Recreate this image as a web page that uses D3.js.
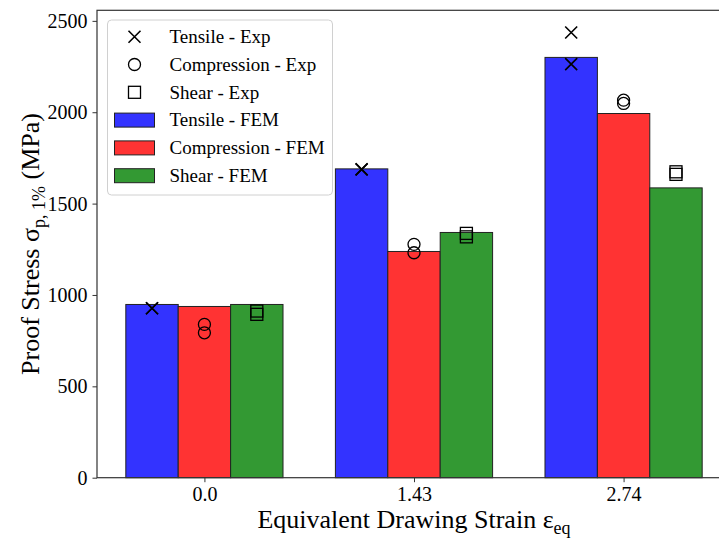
<!DOCTYPE html>
<html>
<head>
<meta charset="utf-8">
<script src="https://cdn.jsdelivr.net/npm/d3@7"></script>
<style>
  body { margin: 0; background: #fff; }
  svg { display: block; font-family: "Liberation Serif", "DejaVu Serif", serif; }
  .axis text { font-family: "Liberation Serif", "DejaVu Serif", serif; font-size: 20px; fill: #000; }
</style>
</head>
<body>
<div id="chart"></div>
<script>
// categories (equivalent drawing strain)
const strains = ['0.0', '1.43', '2.74'];

// FEM bar values (MPa)
const tensileFem = [948, 1690, 2300];
const compressionFem = [937, 1238, 1993];
const shearFem = [948, 1342, 1586];

// experimental points (two specimens per strain)
const tensileExp = [[927, 927], [1687, 1687], [2436, 2263]];
const compressionExp = [[839, 793], [1277, 1231], [2066, 2048]];
const shearExp = [[912, 894], [1337, 1318], [1674, 1660]];

const yTicks = [0, 500, 1000, 1500, 2000, 2500];

const width = 719, height = 538;
const margin = {top: 10.3, left: 97, right: -12, bottom: 60.3};
const plotW = width - margin.left - margin.right,
      plotH = height - margin.top - margin.bottom;

const svg = d3.select('#chart').append('svg')
  .attr('width', width)
  .attr('height', height);

const barW = 0.25;

const x = d3.scaleLinear()
  .domain([-0.5125, 2.5125])
  .range([0, plotW]);

const allVals = [].concat(tensileFem, compressionFem, shearFem,
  tensileExp.flat(), compressionExp.flat(), shearExp.flat());
const y = d3.scaleLinear()
  .domain([0, d3.max(allVals) * 1.05])
  .range([plotH, 0]);

const chart = svg.append('g')
  .attr('transform', `translate(${margin.left}, ${margin.top})`);

const series = [
  {name: 'Tensile - FEM', values: tensileFem, fill: '#3333ff', off: -barW},
  {name: 'Compression - FEM', values: compressionFem, fill: '#ff3333', off: 0},
  {name: 'Shear - FEM', values: shearFem, fill: '#339933', off: barW}
];

series.forEach(s => {
  chart.append('g')
    .selectAll('rect')
    .data(s.values)
    .enter().append('rect')
      .attr('x', (d, i) => x(i + s.off - barW / 2))
      .attr('width', x(barW) - x(0))
      .attr('y', d => y(d))
      .attr('height', d => y(0) - y(d))
      .attr('fill', s.fill)
      .attr('stroke', '#222')
      .attr('stroke-width', 1);
});

// experimental markers
const ms = 6;
const crossPath = `M${-ms},${-ms}L${ms},${ms}M${-ms},${ms}L${ms},${-ms}`;

tensileExp.forEach((pts, i) => {
  chart.append('g').selectAll('path')
    .data(pts)
    .enter().append('path')
      .attr('d', crossPath)
      .attr('transform', d => `translate(${x(i - barW)}, ${y(d)})`)
      .attr('fill', 'none')
      .attr('stroke', '#000')
      .attr('stroke-width', 1.6);
});

compressionExp.forEach((pts, i) => {
  chart.append('g').selectAll('circle')
    .data(pts)
    .enter().append('circle')
      .attr('cx', x(i))
      .attr('cy', d => y(d))
      .attr('r', 6)
      .attr('fill', 'none')
      .attr('stroke', '#000')
      .attr('stroke-width', 1.3);
});

shearExp.forEach((pts, i) => {
  chart.append('g').selectAll('rect')
    .data(pts)
    .enter().append('rect')
      .attr('x', x(i + barW) - 6)
      .attr('y', d => y(d) - 6)
      .attr('width', 12)
      .attr('height', 12)
      .attr('fill', 'none')
      .attr('stroke', '#000')
      .attr('stroke-width', 1.3);
});

// axes
const xAxis = d3.axisBottom(x)
  .tickValues([0, 1, 2])
  .tickFormat(i => strains[i])
  .tickSize(4.5)
  .tickPadding(5);

chart.append('g')
  .attr('class', 'axis axis--x')
  .attr('transform', `translate(0, ${plotH})`)
  .call(xAxis)
  .attr('font-family', null)
  .attr('font-size', null);

const yAxis = d3.axisLeft(y)
  .tickValues(yTicks)
  .tickFormat(d3.format('d'))
  .tickSize(4.5)
  .tickPadding(5);

chart.append('g')
  .attr('class', 'axis axis--y')
  .call(yAxis)
  .attr('font-family', null)
  .attr('font-size', null);

chart.selectAll('.axis .domain').remove();
chart.selectAll('.axis line').attr('stroke', '#333').attr('stroke-width', 1);

// frame
chart.append('rect')
  .attr('x', 0).attr('y', 0)
  .attr('width', plotW).attr('height', plotH)
  .attr('fill', 'none')
  .attr('stroke', '#333')
  .attr('stroke-width', 1.2);

// axis labels
const xLabel = svg.append('text')
  .attr('x', margin.left + plotW / 2)
  .attr('y', 528)
  .attr('text-anchor', 'middle')
  .style('font-size', '26px');
xLabel.append('tspan').text('Equivalent Drawing Strain ε');
xLabel.append('tspan').attr('dy', 6).style('font-size', '18px').text('eq');

const yLabel = svg.append('text')
  .attr('transform', `translate(39, ${margin.top + plotH / 2}) rotate(-90)`)
  .attr('text-anchor', 'middle')
  .style('font-size', '26px');
yLabel.append('tspan').text('Proof Stress σ');
yLabel.append('tspan').attr('dy', 6).style('font-size', '18px').text('p, 1%');
yLabel.append('tspan').attr('dy', -6).text(' (MPa)');

// legend
const legendItems = [
  {name: 'Tensile - Exp', type: 'cross'},
  {name: 'Compression - Exp', type: 'circle'},
  {name: 'Shear - Exp', type: 'square'}
].concat(series.map(s => ({name: s.name, type: 'patch', fill: s.fill})));

const legend = svg.append('g')
  .attr('transform', 'translate(107.5, 20)');

legend.append('rect')
  .attr('width', 225)
  .attr('height', 175)
  .attr('rx', 4)
  .attr('fill', 'rgba(255,255,255,0.8)')
  .attr('stroke', '#d0d0d0')
  .attr('stroke-width', 1);

const rowH = 27.8;
const rows = legend.selectAll('.row')
  .data(legendItems)
  .enter().append('g')
    .attr('class', 'row')
    .attr('transform', (d, i) => `translate(0, ${16.7 + i * rowH})`);

rows.each(function(d) {
  const g = d3.select(this);
  if (d.type === 'cross') {
    g.append('path').attr('d', crossPath)
      .attr('transform', 'translate(27, 0)')
      .attr('fill', 'none').attr('stroke', '#000').attr('stroke-width', 1.6);
  } else if (d.type === 'circle') {
    g.append('circle').attr('cx', 27).attr('cy', 0).attr('r', 6)
      .attr('fill', 'none').attr('stroke', '#000').attr('stroke-width', 1.3);
  } else if (d.type === 'square') {
    g.append('rect').attr('x', 21).attr('y', -6).attr('width', 12).attr('height', 12)
      .attr('fill', 'none').attr('stroke', '#000').attr('stroke-width', 1.3);
  } else {
    g.append('rect').attr('x', 7).attr('y', -7).attr('width', 40).attr('height', 14)
      .attr('fill', d.fill).attr('stroke', '#222').attr('stroke-width', 1);
  }
  g.append('text')
    .attr('x', 62)
    .attr('y', 0)
    .attr('dy', '0.33em')
    .style('font-size', '19px')
    .text(d.name);
});
</script>
</body>
</html>
